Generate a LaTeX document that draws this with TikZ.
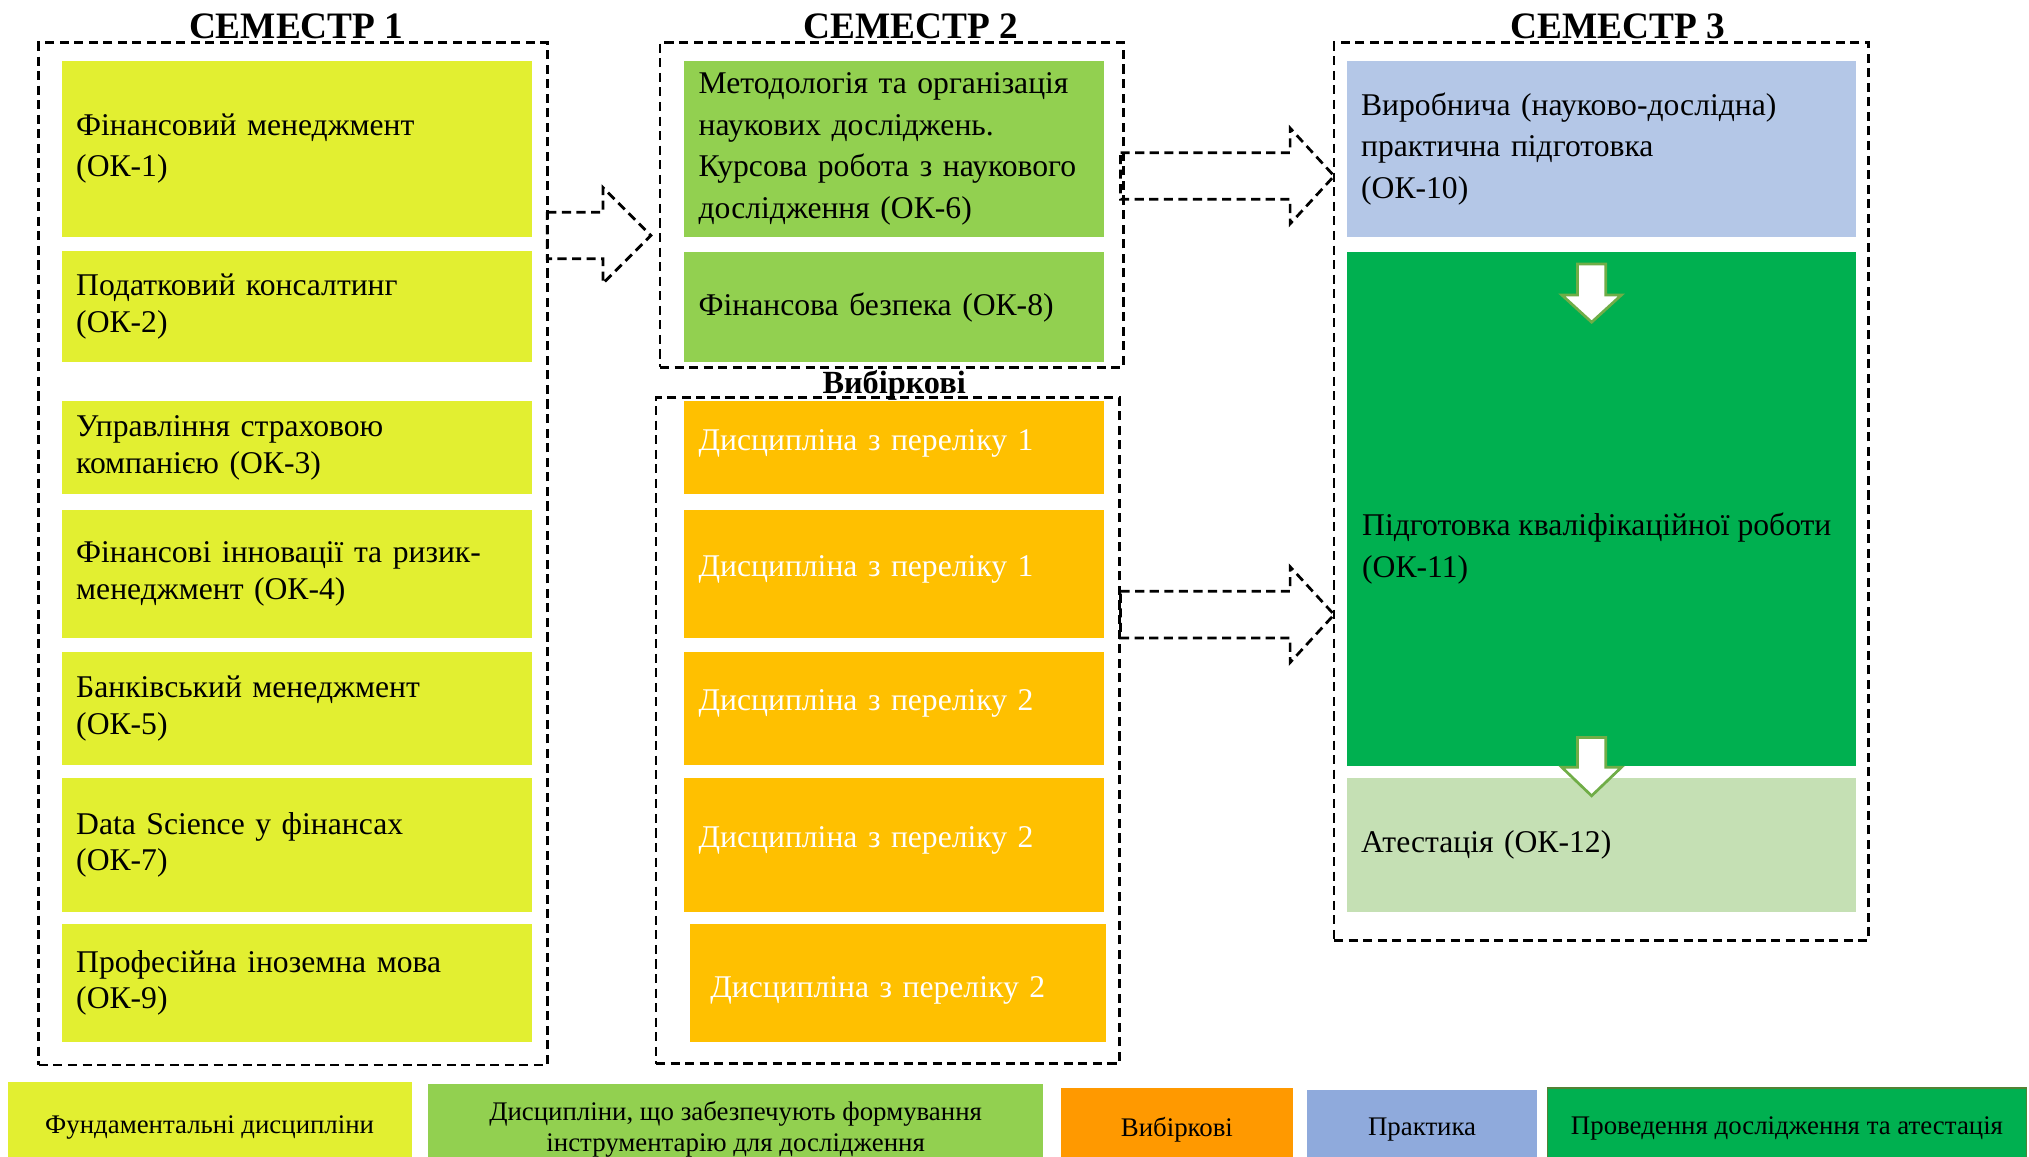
\documentclass[tikz,border=0pt]{standalone}
\usepackage{fontspec}
\setmainfont{Liberation Serif}
\usepackage{xcolor}
\usepackage{tikz}
\usetikzlibrary{fit}

\definecolor{fundyellow}{HTML}{E2EF31}
\definecolor{toolgreen}{HTML}{92D050}
\definecolor{electorange}{HTML}{FFC000}
\definecolor{legorange}{HTML}{FF9900}
\definecolor{practblue}{HTML}{B4C7E7}
\definecolor{legblue}{HTML}{8FAADC}
\definecolor{resgreen}{HTML}{00B050}
\definecolor{attgreen}{HTML}{C5E0B4}
\definecolor{arrgreen}{HTML}{70AD47}
\definecolor{legborder}{HTML}{548235}

\tikzset{
	dashline/.style={line width=0.6pt, dash pattern=on 2pt off 1.2pt},
	groupbox/.style={dashline, draw, inner sep=0pt},
	semtitle/.style={font=\fontsize{8.2}{10}\selectfont\bfseries, inner sep=0pt, anchor=base},
	disc/.style={inner xsep=0.11cm, inner ysep=0pt, align=left, font=\fontsize{6.95}{9.1}\selectfont},
	tight/.style={font=\fontsize{6.95}{8}\selectfont},
	col1/.style={disc, fill=fundyellow, text width=3.41cm},
	col2/.style={disc, fill=toolgreen, text width=3.02cm},
	elect/.style={disc, fill=electorange, text=white, text width=3.02cm},
	col3/.style={disc, text width=3.71cm},
	legend/.style={inner sep=0pt, align=center, font=\fontsize{5.9}{6.8}\selectfont},
	downarr/.style={draw=arrgreen, fill=white, line width=0.6pt, line join=miter}
}

% dashed block arrow: tail, shaft length, head length
\newcommand{\fatarrow}[3]{\draw[dashline] (#1) ++(0,-18) -- ++(#2,0) -- ++(0,-19) -- ++(#3,37) -- ++(-#3,37) -- ++(0,-19) -- ++(-#2,0) -- cycle;}
% white down arrow: top centre, shaft length, head length
\newcommand{\whitearrow}[3]{\draw[downarr] (#1) ++(-11,0) -- ++(22,0) -- ++(0,#2) -- ++(12,0) -- ++(-23,#3) -- ++(-23,-#3) -- ++(12,0) -- cycle;}

\begin{document}
\begin{tikzpicture}[x=0.01cm, y=-0.01cm]
				\useasboundingbox (0,0) rectangle (1568,894);
				\clip (0,0) rectangle (1568,894);
				
				\node[groupbox, fit={(30,33) (423,823)}] (sem1) {};
				\node[groupbox, fit={(510,33) (868,284)}] (sem2) {};
				\node[groupbox, fit={(507,307) (865,822)}] (vyb) {};
				\node[groupbox, fit={(1031,33) (1444,727)}] (sem3) {};
				
				\node[semtitle] (sem1title) at (229,30) {СЕМЕСТР 1};
				\node[semtitle] (sem2title) at (704,30) {СЕМЕСТР 2};
				\node[semtitle] (sem3title) at (1250,30) {СЕМЕСТР 3};
				\node[semtitle, font=\fontsize{7.1}{9}\selectfont\bfseries] (vybtitle) at (691,304) {Вибіркові};
				
				% % % % % % % % % % % % % % % % % % % % % % % % % %
				
				\node[col1, minimum height=1.36cm] (ok1) at (229.5,115) {Фінансовий менеджмент\\(ОК-1)};
				\node[col1, tight, minimum height=0.86cm] (ok2) at (229.5,237) {Податковий консалтинг\\(ОК-2)};
				\node[col1, tight, minimum height=0.72cm] (ok3) at (229.5,346) {Управління страховою\\компанією (ОК-3)};
				\node[col1, tight, minimum height=0.99cm] (ok4) at (229.5,443.5) {Фінансові інновації та ризик-\\менеджмент (ОК-4)};
				\node[col1, tight, minimum height=0.87cm] (ok5) at (229.5,547.5) {Банківський менеджмент\\(ОК-5)};
				\node[col1, tight, minimum height=1.04cm] (ok7) at (229.5,653) {Data Science у фінансах\\(ОК-7)};
				\node[col1, tight, minimum height=0.91cm] (ok9) at (229.5,759.5) {Професійна іноземна мова\\(ОК-9)};
				
				\node[col2, minimum height=1.36cm] (ok6) at (691,115) {Методологія та організація\\наукових досліджень.\\Курсова робота з наукового\\дослідження (ОК-6)};
				\node[col2, minimum height=0.85cm] (ok8) at (691,237.5) {Фінансова безпека (ОК-8)};
				
				\foreach \yc/\h/\k [count=\i] in {346/0.72cm/1, 443.5/0.99cm/1, 547.5/0.87cm/2, 653/1.04cm/2}
					\node[elect, minimum height=\h, text depth=3.6pt] (el\i) at (691,\yc) {Дисципліна з переліку \k};
				\node[elect, inner xsep=0.16cm, text width=2.90cm, minimum height=0.91cm, text height=7.8pt] (el5) at (694,759.5) {Дисципліна з переліку 2};
				
				\node[col3, fill=practblue, minimum height=1.36cm] (ok10) at (1237.5,115) {Виробнича (науково-дослідна)\\практична підготовка\\(ОК-10)};
				\node[col3, fill=resgreen, minimum height=3.97cm] (ok11) at (1237.5,393.5) {};
				\node[disc, anchor=west] (ok11text) at (1041,424) {Підготовка кваліфікаційної роботи\\(ОК-11)};
				\node[col3, fill=attgreen, minimum height=1.04cm] (ok12) at (1237.5,653) {Атестація (ОК-12)};
				
				\whitearrow{1230,204}{24}{21}
				\whitearrow{1230,570}{23}{22}
				
				\fatarrow{423,182}{43}{37}
				\fatarrow{866,136}{131}{34}
				\fatarrow{866,475}{131}{34}
				
				% legend
				\node[legend, fill=fundyellow, minimum width=3.12cm, minimum height=0.7cm] (legfund) at (162,871) {Фундаментальні дисципліни};
				\node[legend, fill=toolgreen, minimum width=4.75cm, minimum height=0.7cm] (legtool) at (568.5,873) {Дисципліни, що забезпечують формування\\інструментарію для дослідження};
				\node[legend, fill=legorange, minimum width=1.79cm, minimum height=0.64cm] (legelect) at (909.5,873) {Вибіркові};
				\node[legend, fill=legblue, minimum width=1.78cm, minimum height=0.62cm] (legpract) at (1099,873) {Практика};
				\node[legend, fill=resgreen, draw=legborder, line width=0.4pt, minimum width=3.7cm, minimum height=0.62cm] (legres) at (1381,872) {Проведення дослідження та атестація};
\end{tikzpicture}
\end{document}
